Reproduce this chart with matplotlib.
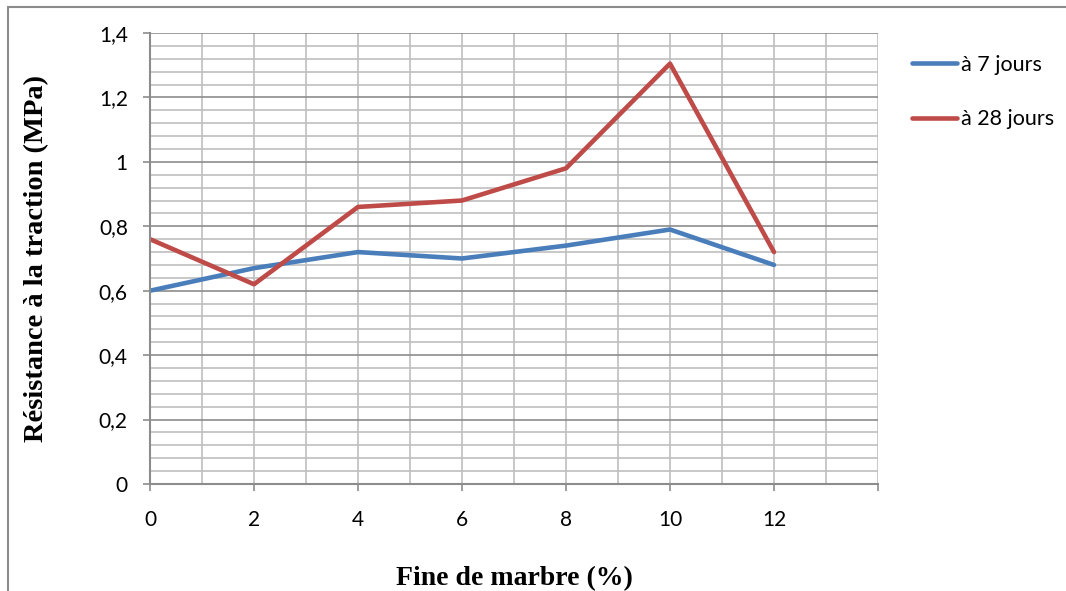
import matplotlib.pyplot as plt
from matplotlib.ticker import MultipleLocator, FuncFormatter
from matplotlib.patches import Rectangle

x = [0, 2, 4, 6, 8, 10, 12]
j7 = [0.60, 0.67, 0.72, 0.70, 0.74, 0.79, 0.68]
j28 = [0.76, 0.62, 0.86, 0.88, 0.98, 1.305, 0.72]
labels = ["à 7 jours", "à 28 jours"]

tick_font = "Lato"
label_font = "Liberation Serif"

fig = plt.figure(figsize=(10.66, 5.91), dpi=100)
ax = fig.add_axes([150/1066, 107/591, 728/1066, 451/591])

# figure border
fig.patches.append(Rectangle((8/1066, -0.1), 1.2, (584/591) + 0.1, transform=fig.transFigure,
                             fill=False, edgecolor="#8c8c8c", linewidth=1.5))

ax.set_xlim(0, 14)
ax.set_ylim(0, 1.4)
ax.xaxis.set_major_locator(MultipleLocator(2))
ax.xaxis.set_minor_locator(MultipleLocator(1))
ax.yaxis.set_major_locator(MultipleLocator(0.2))
ax.yaxis.set_minor_locator(MultipleLocator(0.04))

ax.grid(which="major", axis="y", color="#8c8c8c", linewidth=1.2)
ax.grid(which="minor", axis="y", color="#bfbfbf", linewidth=1.2)
ax.grid(which="both", axis="x", color="#bfbfbf", linewidth=1.2)
ax.set_axisbelow(True)

ax.plot(x, j7, color="#4a7ebb", linewidth=3.3, label=labels[0], solid_capstyle="round")
ax.plot(x, j28, color="#be4b48", linewidth=3.3, label=labels[1], solid_capstyle="round")

for s in ["top", "right"]:
    ax.spines[s].set_visible(False)
for s in ["left", "bottom"]:
    ax.spines[s].set_color("#8c8c8c")
    ax.spines[s].set_linewidth(1.5)

ax.tick_params(which="major", direction="out", length=5, width=1.2, color="#8c8c8c",
               labelsize=15)
ax.tick_params(axis="x", pad=14)
ax.tick_params(axis="y", pad=11)
ax.tick_params(which="minor", length=0)
ax.yaxis.set_major_formatter(FuncFormatter(lambda v, p: ("%g" % round(v, 2)).replace(".", ",")))
ax.xaxis.set_major_formatter(FuncFormatter(lambda v, p: "" if v > 12 else "%d" % v))
for t in ax.get_xticklabels() + ax.get_yticklabels():
    t.set_fontfamily(tick_font)

ax.set_xlabel("Fine de marbre (%)", fontfamily=label_font, fontweight="bold", fontsize=20, labelpad=26)
ax.set_ylabel("Résistance à la traction (MPa)", fontfamily=label_font, fontweight="bold", fontsize=20.5, labelpad=36)

ax.legend(loc="upper left", bbox_to_anchor=(1.02, 0.995), frameon=False, handlelength=2.1,
          handletextpad=0.2, labelspacing=1.6, prop={"family": tick_font, "size": 15.5})

fig.savefig("out.png", dpi=100)
